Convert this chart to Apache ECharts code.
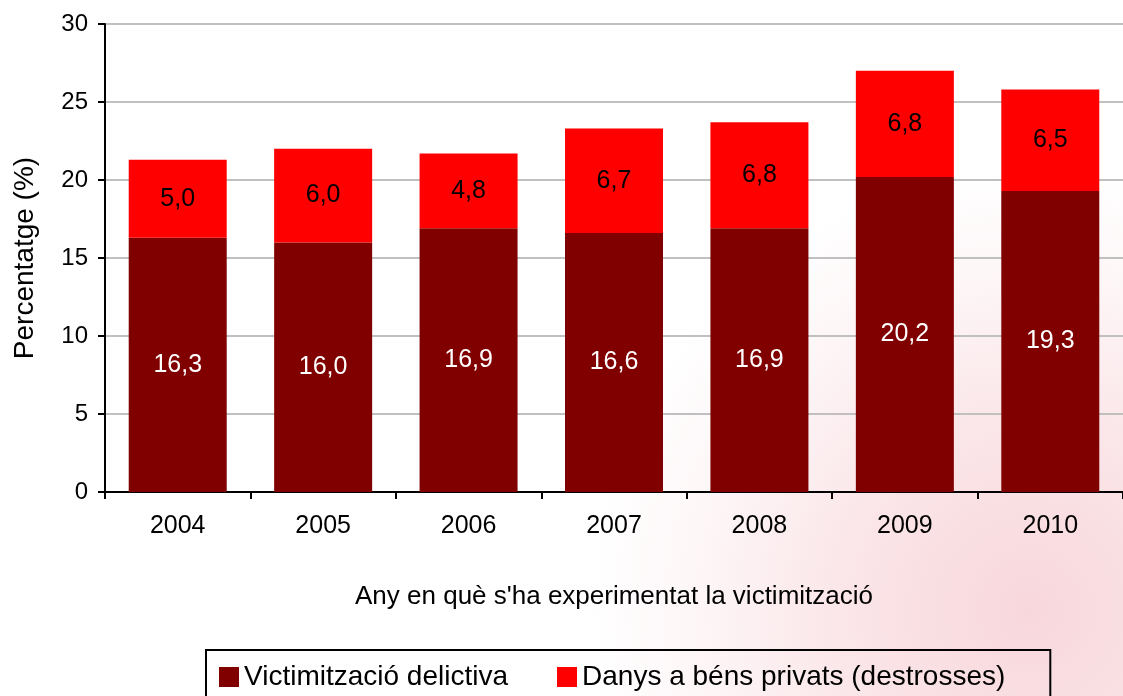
<!DOCTYPE html>
<html><head><meta charset="utf-8">
<script src="https://cdn.jsdelivr.net/npm/echarts@6/dist/echarts.min.js"></script>
<style>html,body{margin:0;padding:0;background:#fff}#c{width:1123px;height:696px}</style>
</head><body><div id="c"></div>
<script>
const categories = ['2004','2005','2006','2007','2008','2009','2010'];
const victimitzacio = [16.3,16.0,16.9,16.6,16.9,20.2,19.3];
const danys = [5.0,6.0,4.8,6.7,6.8,6.8,6.5];
const yTicks = [0,5,10,15,20,25,30];
const fmt = p => p.value.toFixed(1).replace('.', ',');
const chart = echarts.init(document.getElementById('c'));
const font = 'Liberation Sans, Arial, sans-serif';
chart.setOption({
  backgroundColor: '#fff',
  animation: false,
  textStyle: {fontFamily: font},
  graphic: [
    {type: 'rect', z: -10, silent: true, shape: {x: 0, y: 0, width: 1123, height: 696},
     style: {fill: new echarts.graphic.RadialGradient(1030, 610, 440, [
       {offset: 0, color: 'rgba(238,160,170,0.42)'},
       {offset: 0.4, color: 'rgba(238,160,170,0.28)'},
       {offset: 0.75, color: 'rgba(238,160,170,0.1)'},
       {offset: 1, color: 'rgba(238,160,170,0)'}], true)}}
  ],
  grid: {left: 105, top: 24, width: 1020, height: 468, containLabel: false},
  legend: {
    left: 206, top: 650,
    itemWidth: 20, itemHeight: 20, itemGap: 49,
    borderColor: '#000', borderWidth: 2, padding: [13, 45, 24, 13],
    textStyle: {fontSize: 28, color: '#000', fontFamily: font},
    icon: 'rect',
    data: ['Victimització delictiva', 'Danys a béns privats (destrosses)']
  },
  xAxis: {
    type: 'category', data: categories,
    name: "Any en què s'ha experimentat la victimització",
    nameLocation: 'middle', nameGap: 92,
    nameTextStyle: {fontSize: 26, color: '#000'},
    axisLine: {lineStyle: {color: '#000', width: 2}},
    axisTick: {show: true, length: 7, lineStyle: {color: '#000', width: 2}},
    axisLabel: {fontSize: 25, color: '#000', margin: 22}
  },
  yAxis: {
    type: 'value', min: 0, max: 30, interval: 5,
    name: 'Percentatge (%)', nameLocation: 'middle', nameGap: 66,
    nameTextStyle: {fontSize: 28, color: '#000'},
    axisLine: {show: true, lineStyle: {color: '#000', width: 2}},
    axisTick: {show: true, length: 7, lineStyle: {color: '#000', width: 2}},
    axisLabel: {fontSize: 24, color: '#000', margin: 17,
      formatter: v => yTicks.includes(v) ? String(v) : ''},
    splitLine: {lineStyle: {color: '#c0c0c0', width: 2}}
  },
  series: [
    {name: 'Victimització delictiva', type: 'bar', stack: 's', data: victimitzacio,
     barWidth: 98, itemStyle: {color: '#800000'},
     label: {show: true, position: 'inside', color: '#fff', fontSize: 25, formatter: fmt}},
    {name: 'Danys a béns privats (destrosses)', type: 'bar', stack: 's', data: danys,
     barWidth: 98, itemStyle: {color: '#ff0000'},
     label: {show: true, position: 'inside', color: '#000', fontSize: 25, formatter: fmt}}
  ]
});
</script></body></html>
